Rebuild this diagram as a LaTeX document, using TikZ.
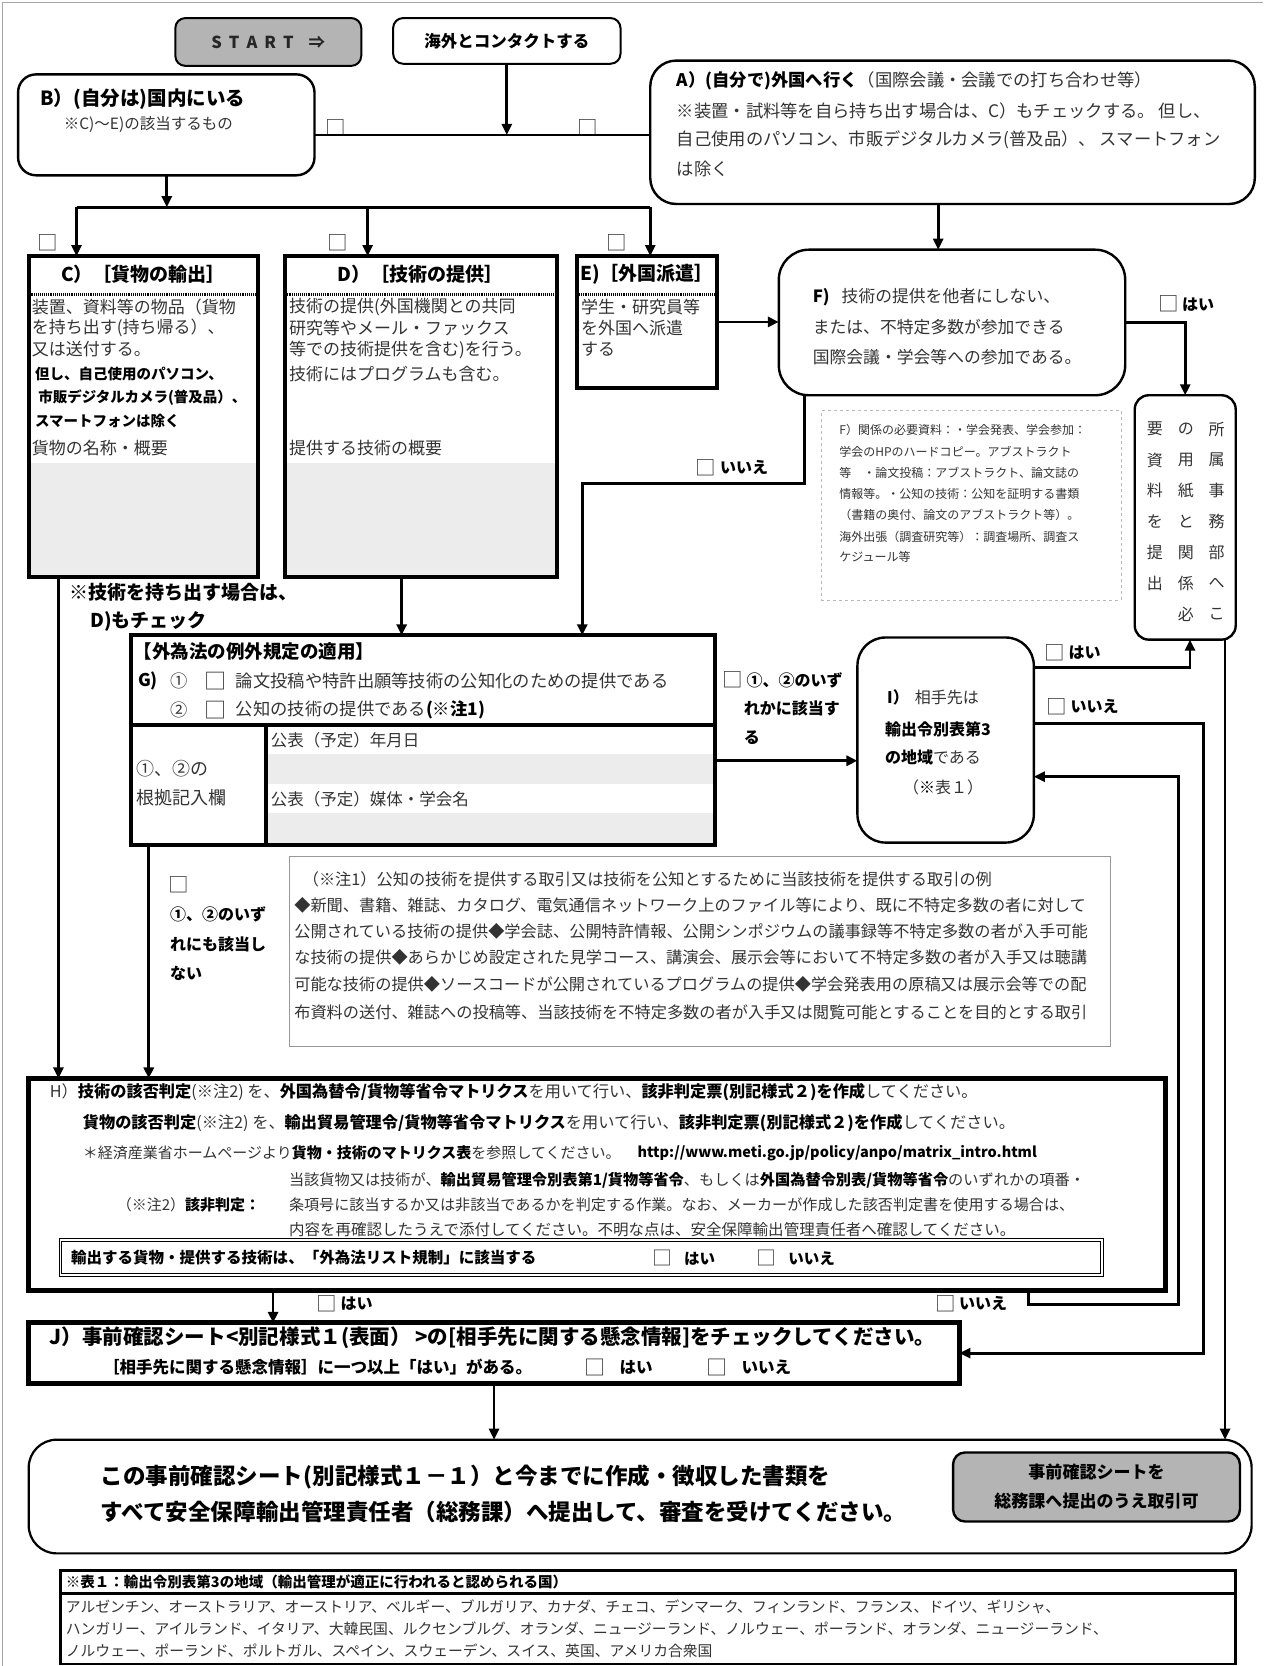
\documentclass[tikz,border=0pt]{standalone}
\usepackage{fontspec}
\setmainfont{Noto Sans CJK JP}
\usetikzlibrary{arrows.meta,fit}
\definecolor{ink}{HTML}{333333}
\definecolor{entrygray}{HTML}{ECECEC}
\definecolor{btn}{HTML}{B4B4B4}
\newcommand\fs[1]{\fontsize{#1}{#1}\selectfont}
\newcommand\bk[1]{{\bfseries\color{black}#1}}
\newcommand\sq{\raisebox{-0.1em}{\scalebox{1.28}{□}}}

\begin{document}
\begin{tikzpicture}[x=1.0622pt,y=-1.0622pt,
  every node/.style={inner sep=0pt,outer sep=0pt},
  tx/.style={anchor=west,text=ink},
  tc/.style={anchor=center,text=ink},
  rbox/.style={draw,line width=2.4pt,rounded corners=#1},
  rbox/.default=18pt,
  heavy/.style={draw,line width=4.2pt},
  wire/.style={line width=2.8pt},
  flow/.style={line width=2.8pt,-{Triangle[length=11pt,width=10pt]}},
  stipple/.style={line width=2.6pt,dash pattern=on 0.8pt off 1.1pt},
]
\useasboundingbox (0,0) rectangle (1189,1568);
% page frame
\draw[gray!70,line width=1.2pt] (2,1568) -- (2,2) -- (1189,2);

% ---------- grey entry areas ----------
\fill[entrygray] (29,436) rectangle (241,541);
\fill[entrygray] (270,436) rectangle (522,541);
\fill[entrygray] (252,710) rectangle (671,738);
\fill[entrygray] (252,765) rectangle (671,793);

% ---------- top row ----------
\node[rbox=10pt,fill=btn,line width=2pt,fit={(165,17)(340,62)}] (start) {};
\node[tc,text=black!85,font={\fs{16.5}\bfseries}] (startT) at (start.center)
  {S\hspace{7pt}T\hspace{7pt}A\hspace{7pt}R\hspace{7pt}T\hspace{15pt}⇒};
\node[rbox=10pt,line width=2pt,fit={(370,17)(584,60)}] (contact) {};
\node[tc,text=black,font={\fs{16.5}\bfseries}] (contactT) at (contact.center) {海外とコンタクトする};

% ---------- B ----------
\node[rbox=18pt,fit={(17,70)(296,165)}] (B) {};
\node[tx,text=black,font={\fs{19.5}\bfseries}] (Bt) at (38,93) {B）(自分は)国内にいる};
\node[tx,font=\fs{15.5}] (Bs) at (60,117) {※C)～E)の該当するもの};

% ---------- A ----------
\node[rbox=26pt,fit={(612,57)(1181,192)}] (A) {};
\node[tx,font=\fs{17.3}] (A1) at (637,76) {\bk{A）(自分で)外国へ行く}（国際会議・会議での打ち合わせ等）};
\node[tx,font=\fs{17.3}] (A2) at (637,104) {※装置・試料等を自ら持ち出す場合は、C）もチェックする。 但し、};
\node[tx,font=\fs{17.3}] (A3) at (637,132) {自己使用のパソコン、市販デジタルカメラ(普及品）、 スマートフォン};
\node[tx,font=\fs{17.3}] (A4) at (637,159) {は除く};

\node[tc,font=\fs{16}] (chkBA1) at (316,120) {\sq};
\node[tc,font=\fs{16}] (chkBA2) at (553,120) {\sq};
\node[tc,font=\fs{16}] (chkC) at (45,228) {\sq};
\node[tc,font=\fs{16}] (chkD) at (318,228) {\sq};
\node[tc,font=\fs{16}] (chkE) at (580,228) {\sq};

% ---------- C ----------
\node[heavy,fit={(27,241)(243,543)}] (C) {};
\draw[stipple] (C.west |- 0,277) -- (C.east |- 0,277);
\node[tc,text=black,font={\fs{19}\bfseries}] (Ct) at (135,258) {C）［貨物の輸出］};
\node[tx,font=\fs{17}] (C1) at (30,289) {装置、資料等の物品（貨物};
\node[tx,font=\fs{17}] (C2) at (30,309) {を持ち出す(持ち帰る）、};
\node[tx,font=\fs{17}] (C3) at (30,329) {又は送付する。};
\node[tx,text=black,font={\fs{14.5}\bfseries}] (C4) at (33,352) {但し、自己使用のパソコン、};
\node[tx,text=black,font={\fs{14.5}\bfseries}] (C5) at (36,374) {市販デジタルカメラ(普及品）、};
\node[tx,text=black,font={\fs{14.5}\bfseries}] (C6) at (33,396) {スマートフォンは除く};
\node[tx,font=\fs{17}] (C7) at (30,422) {貨物の名称・概要};

% ---------- D ----------
\node[heavy,fit={(268,241)(524,543)}] (D) {};
\draw[stipple] (D.west |- 0,277) -- (D.east |- 0,277);
\node[tc,text=black,font={\fs{19}\bfseries}] (Dt) at (396,258) {D）［技術の提供］};
\node[tx,font=\fs{17}] (D1) at (272,289) {技術の提供(外国機関との共同};
\node[tx,font=\fs{17}] (D2) at (272,309) {研究等やメール・ファックス};
\node[tx,font=\fs{17}] (D3) at (272,329) {等での技術提供を含む)を行う。};
\node[tx,font=\fs{17}] (D4) at (272,352) {技術にはプログラムも含む。};
\node[tx,font=\fs{17}] (D5) at (272,422) {提供する技術の概要};

% ---------- E ----------
\node[heavy,fit={(543,241)(675,365)}] (E) {};
\draw[stipple] (E.west |- 0,277) -- (E.east |- 0,277);
\node[tc,text=black,font={\fs{19}\bfseries}] (Et) at (609,258) {E)［外国派遣］};
\node[tx,font=\fs{17}] (E1) at (547,289) {学生・研究員等};
\node[tx,font=\fs{17}] (E2) at (547,309) {を外国へ派遣};
\node[tx,font=\fs{17}] (E3) at (547,329) {する};

% ---------- F ----------
\node[rbox=30pt,fit={(733,235)(1059,372)}] (F) {};
\node[tx,font=\fs{16.8}] (F1) at (765,280) {\bk{F)}\hspace{12pt}技術の提供を他者にしない、};
\node[tx,font=\fs{16.8}] (F2) at (765,308) {または、不特定多数が参加できる};
\node[tx,font=\fs{16.8}] (F3) at (765,336) {国際会議・学会等への参加である。};

\node[draw=gray!55,dashed,line width=0.7pt,fit={(773,386)(1055,565)}] (Fnote) {};
\node[tx,font=\fs{12}] (Fn1) at (790,405) {F）関係の必要資料：・学会発表、学会参加：};
\node[tx,font=\fs{12}] (Fn2) at (790,425) {学会のHPのハードコピー。アブストラクト};
\node[tx,font=\fs{12}] (Fn3) at (790,445) {等\hspace{12pt}・論文投稿：アブストラクト、論文誌の};
\node[tx,font=\fs{12}] (Fn4) at (790,465) {情報等。・公知の技術：公知を証明する書類};
\node[tx,font=\fs{12}] (Fn5) at (790,485) {（書籍の奥付、論文のアブストラクト等）。};
\node[tx,font=\fs{12}] (Fn6) at (790,505) {海外出張（調査研究等）：調査場所、調査ス};
\node[tx,font=\fs{12}] (Fn7) at (790,524) {ケジュール等};

% ---------- submit-to-office box (vertical writing) ----------
\node[rbox=14pt,fit={(1068,372)(1163,602)}] (ask) {};
\foreach \c [count=\i] in {所,属,事,務,部,へ,こ}
  \node[tc,font=\fs{16}] (askR\i) at (1145,{404+29*(\i-1)}) {\c};
\foreach \c [count=\i] in {の,用,紙,と,関,係,必}
  \node[tc,font=\fs{16}] (askM\i) at (1116,{404+29*(\i-1)}) {\c};
\foreach \c [count=\i] in {要,資,料,を,提,出}
  \node[tc,font=\fs{16}] (askL\i) at (1087,{404+29*(\i-1)}) {\c};

\node[tx,text=black,font={\fs{19}\bfseries}] (Cn1) at (65,557) {※技術を持ち出す場合は、};
\node[tx,text=black,font={\fs{19}\bfseries}] (Cn2) at (85,585) {D)もチェック};

% ---------- G ----------
\node[heavy,line width=4pt,fit={(123,598)(673,795)}] (G) {};
\coordinate (gdiv) at (250,682);
\draw[line width=4pt] (G.west |- gdiv) -- (G.east |- gdiv);
\draw[line width=4pt] (gdiv) -- (gdiv |- G.south);
\node[tx,text=black,font={\fs{18.5}\bfseries}] (Gt) at (126,613) {【外為法の例外規定の適用】};
\node[tx,text=black,font={\fs{17.5}\bfseries}] (G0) at (130,641) {G)};
\node[tx,font=\fs{17.3}] (G1a) at (160,641) {①};
\node[tx,font=\fs{17.3}] (G1b) at (192,641) {\sq};
\node[tx,font=\fs{17.3}] (G1c) at (222,641) {論文投稿や特許出願等技術の公知化のための提供である};
\node[tx,font=\fs{17.3}] (G2a) at (160,668) {②};
\node[tx,font=\fs{17.3}] (G2b) at (192,668) {\sq};
\node[tx,font=\fs{17.3}] (G2c) at (222,668) {公知の技術の提供である\bk{(※注1)}};
\node[tx,font=\fs{18}] (Gk1) at (128,723) {①、②の};
\node[tx,font=\fs{18}] (Gk2) at (128,751) {根拠記入欄};
\node[tx,font=\fs{16.5}] (Gd1) at (255,697) {公表（予定）年月日};
\node[tx,font=\fs{16.5}] (Gd2) at (255,752) {公表（予定）媒体・学会名};

\node[tx,font=\fs{16}] (GI1) at (680,640) {\sq\ \bk{①、②のいず}};
\node[tx,font=\fs{16}] (GI2) at (700,667) {\bk{れかに該当す}};
\node[tx,font=\fs{16}] (GI3) at (700,694) {\bk{る}};

% ---------- I ----------
\node[rbox=28pt,fit={(807,600)(973,793)}] (I) {};
\node[tx,font=\fs{16}] (I1) at (835,656) {\bk{I）}\hspace{6pt}相手先は};
\node[tx,font=\fs{16}] (I2) at (833,686) {\bk{輸出令別表第3}};
\node[tx,font=\fs{16}] (I3) at (833,713) {\bk{の地域}である};
\node[tx,font=\fs{16}] (I4) at (850,741) {（\bk{※}表１）};

\node[tx,font=\fs{16}] (Iyes) at (983,614) {\sq\ \bk{はい}};
\node[tx,font=\fs{16}] (Ino) at (985,665) {\sq\ \bk{いいえ}};

% ---------- note 1 ----------
\node[draw=gray!80,line width=0.8pt,fit={(272,806)(1045,985)}] (note1) {};
\node[tx,font=\fs{16.2}] (N1) at (285,828) {（※注1）公知の技術を提供する取引又は技術を公知とするために当該技術を提供する取引の例};
\node[tx,font=\fs{16.2}] (N2) at (277,852) {◆新聞、書籍、雑誌、カタログ、電気通信ネットワーク上のファイル等により、既に不特定多数の者に対して};
\node[tx,font=\fs{16.2}] (N3) at (277,877) {公開されている技術の提供◆学会誌、公開特許情報、公開シンポジウムの議事録等不特定多数の者が入手可能};
\node[tx,font=\fs{16.2}] (N4) at (277,901) {な技術の提供◆あらかじめ設定された見学コース、講演会、展示会等において不特定多数の者が入手又は聴講};
\node[tx,font=\fs{16.2}] (N5) at (277,926) {可能な技術の提供◆ソースコードが公開されているプログラムの提供◆学会発表用の原稿又は展示会等での配};
\node[tx,font=\fs{16.2}] (N6) at (277,953) {布資料の送付、雑誌への投稿等、当該技術を不特定多数の者が入手又は閲覧可能とすることを目的とする取引};

\node[tc,font=\fs{16}] (GH0) at (168,833) {\sq};
\node[tx,font=\fs{16}] (GH1) at (160,861) {\bk{①、②のいず}};
\node[tx,font=\fs{16}] (GH2) at (160,889) {\bk{れにも該当し}};
\node[tx,font=\fs{16}] (GH3) at (160,916) {\bk{ない}};

% ---------- H ----------
\node[heavy,line width=5pt,fit={(27,1015)(1097,1215)}] (H) {};
\node[tx,font=\fs{16.2}] (H1) at (47,1028) {H）\bk{技術の該否判定}(※注2) を、\bk{外国為替令/貨物等省令マトリクス}を用いて行い、\bk{該非判定票(別記様式２)を作成}してください。};
\node[tx,font=\fs{16.2}] (H2) at (78,1057) {\bk{貨物の該否判定}(※注2) を、\bk{輸出貿易管理令/貨物等省令マトリクス}を用いて行い、\bk{該非判定票(別記様式２)を作成}してください。};
\node[tx,font=\fs{15}] (H3) at (78,1085) {＊経済産業省ホームページより\bk{貨物・技術のマトリクス表}を参照してください。};
\node[tx,text=black,font={\fs{14.5}\bfseries}] (H3u) at (600,1085) {http://www.meti.go.jp/policy/anpo/matrix\_intro.html};
\node[tx,font=\fs{15.2}] (H4) at (272,1111) {当該貨物又は技術が、\bk{輸出貿易管理令別表第1/貨物等省令}、もしくは\bk{外国為替令別表/貨物等省令}のいずれかの項番・};
\node[tx,font=\fs{15}] (H5a) at (110,1134) {（※注2）\bk{該非判定：}};
\node[tx,font=\fs{15.1}] (H5) at (272,1134) {条項号に該当するか又は非該当であるかを判定する作業。なお、メーカーが作成した該否判定書を使用する場合は、};
\node[tx,font=\fs{15.5}] (H6) at (272,1157) {内容を再確認したうえで添付してください。不明な点は、安全保障輸出管理責任者へ確認してください。};
\node[draw,double,double distance=1.6pt,line width=1.1pt,fit={(57,1167)(1037,1200)}] (Hq) {};
\node[tx,text=black,font={\fs{15.5}\bfseries}] (Hq1) at (67,1184) {輸出する貨物・提供する技術は、「外為法リスト規制」に該当する};
\node[tx,font=\fs{15.5}] (Hq2) at (614,1184) {\sq\hspace{12pt}\bk{はい}};
\node[tx,font=\fs{15.5}] (Hq3) at (712,1184) {\sq\hspace{12pt}\bk{いいえ}};

\node[tx,font=\fs{16}] (HJy) at (298,1227) {\sq\ \bk{はい}};
\node[tx,font=\fs{16}] (HJn) at (880,1227) {\sq\ \bk{いいえ}};

% ---------- J ----------
\node[heavy,line width=5pt,fit={(27,1245)(903,1302)}] (J) {};
\node[tx,text=black,font={\fs{20.5}\bfseries}] (J1) at (47,1259) {J）事前確認シート<別記様式１(表面） >の[相手先に関する懸念情報]をチェックしてください。};
\node[tx,text=black,font={\fs{16.5}\bfseries}] (J2) at (97,1287) {［相手先に関する懸念情報］に一つ以上「はい」がある。};
\node[tx,font=\fs{16.5}] (J3) at (550,1287) {\sq\hspace{14pt}\bk{はい}};
\node[tx,font=\fs{16.5}] (J4) at (665,1287) {\sq\hspace{14pt}\bk{いいえ}};

% ---------- final ----------
\node[rbox=28pt,line width=2.2pt,fit={(27,1355)(1178,1462)}] (fin) {};
\node[tx,text=black,font={\fs{22.5}\bfseries}] (fin1) at (95,1390) {この事前確認シート(別記様式１－１）と今までに作成・徴収した書類を};
\node[tx,text=black,font={\fs{22.5}\bfseries}] (fin2) at (95,1423) {すべて安全保障輸出管理責任者（総務課）へ提出して、審査を受けてください。};
\node[rbox=12pt,fill=btn,line width=2.4pt,fit={(897,1367)(1167,1432)}] (ok) {};
\node[tc,text=black,font={\fs{17}\bfseries}] (ok1) at (1032,1385) {事前確認シートを};
\node[tc,text=black,font={\fs{17}\bfseries}] (ok2) at (1032,1413) {総務課へ提出のうえ取引可};

% ---------- table 1 ----------
\node[draw,line width=2.6pt,fit={(57,1478)(1163,1566)}] (tab) {};
\coordinate (tabsep) at (0,1500);
\draw[line width=2.6pt] (tab.west |- tabsep) -- (tab.east |- tabsep);
\node[tx,text=black,font={\fs{14.5}\bfseries}] (tab0) at (62,1489) {※表１：輸出令別表第3の地域（輸出管理が適正に行われると認められる国）};
\node[tx,font=\fs{14.8}] (tab1) at (62,1512) {アルゼンチン、オーストラリア、オーストリア、ベルギー、ブルガリア、カナダ、チェコ、デンマーク、フィンランド、フランス、ドイツ、ギリシャ、};
\node[tx,font=\fs{14.8}] (tab2) at (62,1533) {ハンガリー、アイルランド、イタリア、大韓民国、ルクセンブルグ、オランダ、ニュージーランド、ノルウェー、ポーランド、オランダ、ニュージーランド、};
\node[tx,font=\fs{14.8}] (tab3) at (62,1554) {ノルウェー、ポーランド、ポルトガル、スペイン、スウェーデン、スイス、英国、アメリカ合衆国};

% ---------- connectors ----------
\coordinate (busTop) at (477,127);
\coordinate (busMid) at (157,195);
\coordinate (busC) at (72,195);
\coordinate (busD) at (346,195);
\coordinate (busE) at (612,195);
\draw[flow] (contact.south -| busTop) -- (busTop);
\draw[wire] (B.east |- busTop) -- (A.west |- busTop);
\draw[flow] (B.south -| busMid) -- (busMid);
\draw[wire] (busC) -- (busE);
\draw[flow] (busC) -- (busC |- C.north);
\draw[flow] (busD) -- (busD |- D.north);
\draw[flow] (busE) -- (busE |- E.north);

\coordinate (ax) at (883,0);
\draw[flow] (A.south -| ax) -- (F.north -| ax);
\draw[flow] (E.east) -- (E.east -| F.west);
\draw[flow] (F.east) -| (ask.north);
\node[tx,font=\fs{16}] (Fyes) at (1090,286) {\sq\ \bk{はい}};

\coordinate (fno1) at (757,455);
\coordinate (fno2) at (548,455);
\draw[flow] (F.south -| fno1) -- (fno1) -- (fno2) -- (fno2 |- G.north);
\node[tx,font=\fs{16}] (Fno) at (655,440) {\sq\ \bk{いいえ}};

\coordinate (dx) at (378,0);
\draw[flow] (D.south -| dx) -- (dx |- G.north);
\coordinate (cx) at (55,0);
\draw[flow] (C.south -| cx) -- (cx |- H.north);
\coordinate (gx) at (140,0);
\draw[flow] (G.south -| gx) -- (gx |- H.north);

\coordinate (gy) at (0,716);
\draw[flow] (G.east |- gy) -- (I.west |- gy);

\coordinate (iyes) at (1120,628);
\draw[flow] (I.east |- iyes) -- (iyes) -- (iyes |- ask.south);
\coordinate (ino) at (1133,681);
\draw[flow] (I.east |- ino) -- (ino) |- (J.east);

\coordinate (hno1) at (968,1228);
\coordinate (hno2) at (1109,1228);
\coordinate (hy) at (0,731);
\draw[flow] (H.south -| hno1) -- (hno1) -- (hno2) |- (I.east |- hy);

\coordinate (hx) at (257,0);
\draw[flow] (H.south -| hx) -- (hx |- J.north);
\draw[flow] (J.south) -- (J.south |- fin.north);

\coordinate (askx) at (1153,0);
\draw[flow] (ask.south -| askx) -- (askx |- fin.north);
\end{tikzpicture}
\end{document}
